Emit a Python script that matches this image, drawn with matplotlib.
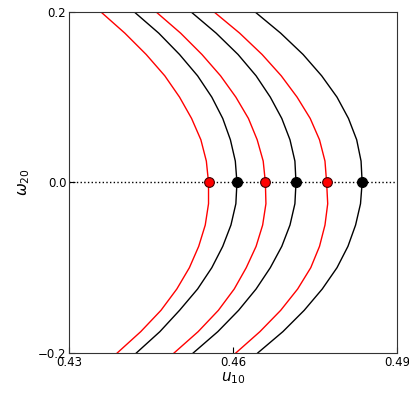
import numpy as np
import matplotlib
matplotlib.use("Agg")
import matplotlib.pyplot as plt

omega = [0.2, 0.175, 0.15, 0.125, 0.1, 0.075, 0.05, 0.025, 0.0,
         -0.025, -0.05, -0.075, -0.1, -0.125, -0.15, -0.175, -0.2]

# u10 along each branch (red / black alternating)
red_1 = [0.4358, 0.4402, 0.4441, 0.4475, 0.4502, 0.4524, 0.4541, 0.4551, 0.4555,
         0.4555, 0.4549, 0.4537, 0.4520, 0.4497, 0.4468, 0.4431, 0.4388]
black_1 = [0.4419, 0.4464, 0.4502, 0.4535, 0.4561, 0.4581, 0.4595, 0.4604, 0.4607,
           0.4605, 0.4596, 0.4581, 0.4561, 0.4535, 0.4502, 0.4466, 0.4423]
red_2 = [0.4459, 0.4504, 0.4543, 0.4577, 0.4605, 0.4628, 0.4644, 0.4655, 0.4659,
         0.4660, 0.4654, 0.4642, 0.4624, 0.4602, 0.4573, 0.4536, 0.4492]
black_2 = [0.4523, 0.4569, 0.4609, 0.4642, 0.4668, 0.4689, 0.4704, 0.4713, 0.4715,
           0.4713, 0.4704, 0.4689, 0.4668, 0.4642, 0.4610, 0.4572, 0.4527]
red_3 = [0.4565, 0.4612, 0.4653, 0.4688, 0.4717, 0.4741, 0.4758, 0.4768, 0.4771,
         0.4773, 0.4768, 0.4758, 0.4742, 0.4718, 0.4687, 0.4649, 0.4605]
black_3 = [0.4640, 0.4687, 0.4728, 0.4762, 0.4790, 0.4811, 0.4826, 0.4834, 0.4836,
           0.4833, 0.4824, 0.4810, 0.4790, 0.4763, 0.4730, 0.4691, 0.4645]

# points on the omega=0 axis
red_pts = [0.4555, 0.4659, 0.4771]
black_pts = [0.4607, 0.4715, 0.4836]

fig = plt.figure(figsize=(4.09, 4.09), dpi=100)
ax = fig.add_axes([0.169, 0.137, 0.802, 0.834])

for u, c in [(red_1, "red"), (black_1, "black"), (red_2, "red"),
             (black_2, "black"), (red_3, "red"), (black_3, "black")]:
    ax.plot(u, omega, color=c, lw=1.0)

ax.axhline(0.0, color="black", ls=":", lw=1.0)
ax.plot(red_pts, np.zeros(len(red_pts)), "o", color="red", mec="#400000", ms=7, mew=0.8)
ax.plot(black_pts, np.zeros(len(black_pts)), "o", color="black", ms=7)

ax.set_xlim(0.43, 0.49)
ax.set_ylim(-0.2, 0.2)
ax.set_xticks([0.43, 0.46, 0.49])
ax.set_xticklabels(["0.43", "0.46", "0.49"])
ax.set_yticks([-0.2, 0.0, 0.2])
ax.set_yticklabels(["\u22120.2", "0.0", "0.2"])
ax.tick_params(direction="in", labelsize=8.5, length=4, width=0.8, pad=2)
for s in ax.spines.values():
    s.set_color("#333333")

ax.set_xlabel(r"$u_{10}$", fontsize=11, labelpad=1)
ax.set_ylabel(r"$\omega_{20}$", fontsize=11, labelpad=4)

fig.savefig("out.png", dpi=100)
